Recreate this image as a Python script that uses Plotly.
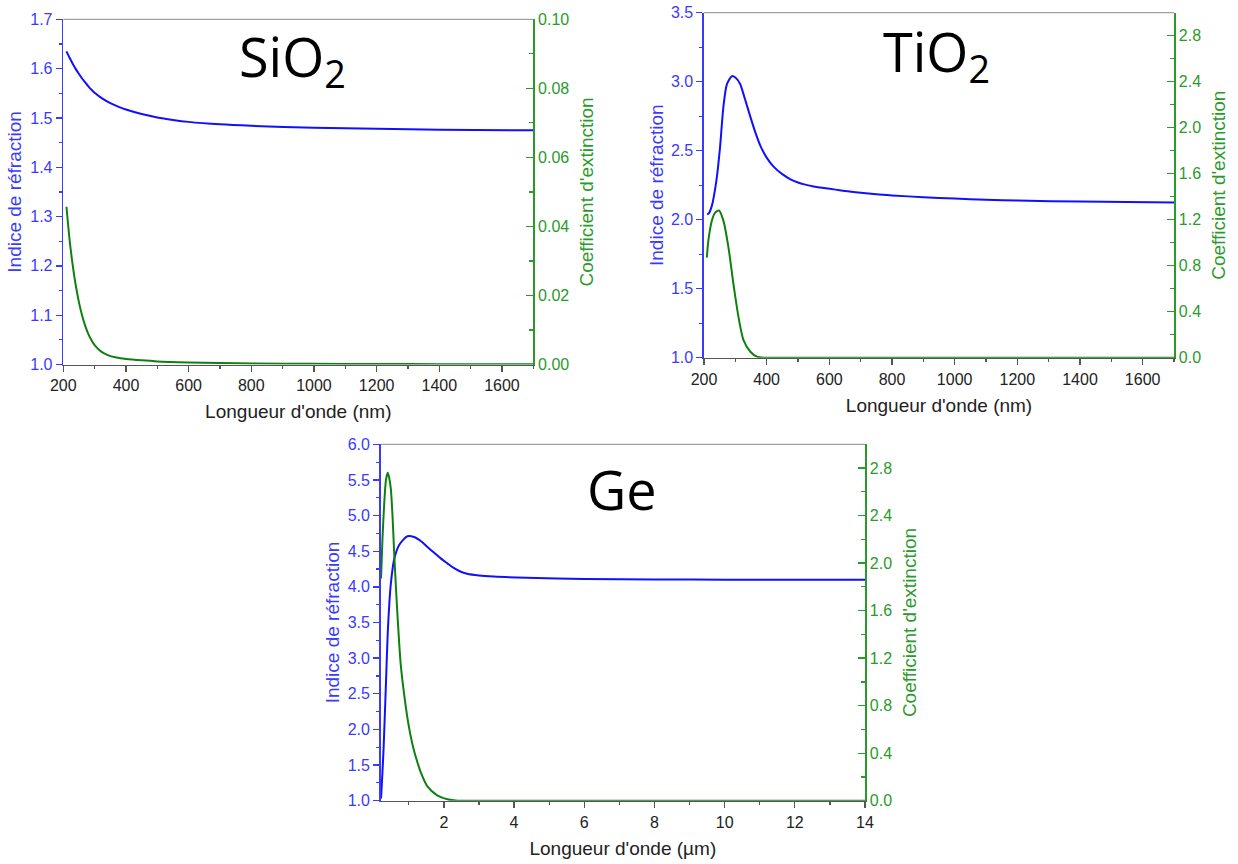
import plotly.graph_objects as go

# ---------------- data ----------------
sio2_wl_n = [210, 220, 230, 240, 250, 260, 270, 280, 290, 300, 325, 350, 375, 400, 450, 500, 550, 600, 700, 800, 1000, 1200, 1400, 1700]
sio2_n = [1.635, 1.622, 1.610, 1.599, 1.589, 1.580, 1.572, 1.564, 1.557, 1.551, 1.539, 1.530, 1.523, 1.517, 1.508, 1.501, 1.496, 1.492, 1.487, 1.484, 1.480, 1.478, 1.476, 1.475]
sio2_wl_k = [210, 220, 230, 240, 250, 260, 270, 280, 290, 300, 320, 340, 370, 400, 450, 500, 600, 700, 800, 1000, 1200, 1400, 1700]
sio2_k = [0.0457, 0.0362, 0.0288, 0.0228, 0.0180, 0.0142, 0.0112, 0.0088, 0.0070, 0.0056, 0.0038, 0.0028, 0.0020, 0.0016, 0.0012, 0.0009, 0.0006, 0.0004, 0.0003, 0.0002, 0.00015, 0.0001, 0.0001]

tio2_wl_n = [210, 215, 225, 240, 251, 262, 273, 289, 300, 315, 330, 348, 365, 380, 400, 422, 450, 476, 500, 520, 550, 583, 620, 650, 700, 750, 800, 900, 1000, 1100, 1200, 1400, 1700]
tio2_n = [2.04, 2.045, 2.10, 2.29, 2.52, 2.82, 2.98, 3.04, 3.03, 2.985, 2.88, 2.745, 2.625, 2.535, 2.45, 2.385, 2.33, 2.293, 2.270, 2.256, 2.241, 2.229, 2.218, 2.208, 2.195, 2.184, 2.176, 2.163, 2.153, 2.145, 2.139, 2.131, 2.125]
tio2_wl_k = [209, 214, 225, 235, 248, 262, 278, 294, 310, 326, 348, 369, 390, 420, 500, 800, 1200, 1700]
tio2_k = [0.87, 1.02, 1.19, 1.26, 1.28, 1.19, 0.96, 0.64, 0.355, 0.153, 0.052, 0.009, 0.0, 0.0, 0.0, 0.0, 0.0, 0.0]

ge_um_n = [0.21, 0.25, 0.28, 0.31, 0.35, 0.40, 0.45, 0.49, 0.58, 0.73, 0.96, 1.15, 1.35, 1.53, 1.72, 1.91, 2.1, 2.28, 2.47, 2.66, 3.0, 3.42, 4.36, 6, 8, 10, 14]
ge_n = [1.03, 1.40, 1.71, 2.10, 2.65, 3.35, 3.80, 4.05, 4.38, 4.59, 4.71, 4.70, 4.64, 4.56, 4.48, 4.40, 4.33, 4.265, 4.215, 4.185, 4.16, 4.145, 4.128, 4.112, 4.105, 4.10, 4.10]
ge_um_k = [0.21, 0.25, 0.30, 0.35, 0.40, 0.44, 0.49, 0.54, 0.58, 0.63, 0.68, 0.77, 0.87, 0.96, 1.05, 1.15, 1.25, 1.34, 1.53, 1.81, 2.1, 2.4, 3.0, 14]
ge_k = [1.87, 2.20, 2.50, 2.70, 2.76, 2.72, 2.62, 2.38, 2.11, 1.82, 1.55, 1.15, 0.89, 0.70, 0.55, 0.42, 0.32, 0.24, 0.12, 0.045, 0.012, 0.0, 0.0, 0.0]

titles = ["SiO<sub>2</sub>", "TiO<sub>2</sub>", "Ge"]
x_titles = ["Longueur d'onde (nm)", "Longueur d'onde (nm)", "Longueur d'onde (µm)"]
y_left_title = "Indice de réfraction"
y_right_title = "Coefficient d'extinction"

# ---------------- styling ----------------
W, H = 1238, 864
BLUE_LINE = "#1010ff"
BLUE_AX = "#3a3aff"
GREEN_LINE = "#0f800f"
GREEN_AX = "#2a9a2a"
DARK = "#555555"
TICKFONT = "Liberation Sans, Arial, sans-serif"
TICK_SIZE = 16
TITLE_SIZE = 19

def xd(a, b):
    return [a / W, b / W]

def yd(top, bottom):
    return [1 - bottom / H, 1 - top / H]

panels = [
    dict(xdom=xd(63.3, 533.3), ydom=yd(19.3, 364.5), xr=[200, 1700], xdt=200, xt0=200, xmin=100,
         yl=[1.0, 1.7], yldt=0.1, ylmin=0.05, ylfmt=".1f",
         yr=[0, 0.10], yrdt=0.02, yrmin=0.01, yrfmt=".2f",
         xn=sio2_wl_n, n=sio2_n, xk=sio2_wl_k, k=sio2_k, title_xy=(292, 59),
         lstand=3, rstand=11, bstand=11),
    dict(xdom=xd(704, 1174), ydom=yd(12.7, 357.7), xr=[200, 1700], xdt=200, xt0=200, xmin=100,
         yl=[1.0, 3.5], yldt=0.5, ylmin=0.25, ylfmt=".1f",
         yr=[0, 3.0], yrdt=0.4, yrmin=0.2, yrfmt=".1f",
         xn=tio2_wl_n, n=tio2_n, xk=tio2_wl_k, k=tio2_k, title_xy=(936, 54),
         lstand=2, rstand=11, bstand=12),
    dict(xdom=xd(380.7, 865), ydom=yd(444.3, 800.7), xr=[0.2, 14], xdt=2, xt0=0, xmin=1,
         yl=[1.0, 6.0], yldt=0.5, ylmin=0.25, ylfmt=".1f",
         yr=[0, 3.0], yrdt=0.4, yrmin=0.2, yrfmt=".1f",
         xn=ge_um_n, n=ge_n, xk=ge_um_k, k=ge_k, title_xy=(622, 489),
         lstand=3, rstand=11, bstand=12),
]

fig = go.Figure()
layout = dict(width=W, height=H, margin=dict(l=0, r=0, t=0, b=0, autoexpand=False),
              paper_bgcolor="white", plot_bgcolor="white", showlegend=False,
              font=dict(family=TICKFONT))
shapes = []
annotations = []

for i, p in enumerate(panels):
    xi = i + 1
    yl_i = 2 * i + 1
    yr_i = 2 * i + 2
    xname = "x" if xi == 1 else f"x{xi}"
    ylname = "y" if yl_i == 1 else f"y{yl_i}"
    yrname = f"y{yr_i}"
    xkey = "xaxis" if xi == 1 else f"xaxis{xi}"
    ylkey = "yaxis" if yl_i == 1 else f"yaxis{yl_i}"
    yrkey = f"yaxis{yr_i}"

    fig.add_trace(go.Scatter(x=p["xk"], y=p["k"], xaxis=xname, yaxis=yrname, mode="lines",
                             line=dict(color=GREEN_LINE, width=2, shape="spline", smoothing=0.7),
                             hoverinfo="skip"))
    fig.add_trace(go.Scatter(x=p["xn"], y=p["n"], xaxis=xname, yaxis=ylname, mode="lines",
                             line=dict(color=BLUE_LINE, width=2, shape="spline", smoothing=0.7),
                             hoverinfo="skip"))

    layout[xkey] = dict(domain=p["xdom"], range=p["xr"], anchor=ylname, automargin=False,
                        showline=True, linecolor=DARK, linewidth=1.6, mirror=False,
                        ticks="outside", ticklen=6, tickwidth=1.3, tickcolor=DARK,
                        tick0=p["xt0"], dtick=p["xdt"],
                        minor=dict(ticks="outside", ticklen=3, tickwidth=1.2, tickcolor=DARK, dtick=p["xmin"], showgrid=False),
                        tickfont=dict(size=TICK_SIZE, color="#222222", family=TICKFONT),
                        title=dict(text=x_titles[i], font=dict(size=TITLE_SIZE, color="#222222", family=TICKFONT), standoff=p["bstand"]),
                        showgrid=False, zeroline=False, fixedrange=True)
    layout[ylkey] = dict(domain=p["ydom"], range=p["yl"], anchor=xname, side="left", automargin=False,
                         showline=True, linecolor=BLUE_AX, linewidth=1.6,
                         ticks="outside", ticklen=6, tickwidth=1.3, tickcolor=BLUE_AX,
                         tick0=p["yl"][0], dtick=p["yldt"], tickformat=p["ylfmt"],
                         minor=dict(ticks="outside", ticklen=3, tickwidth=1.2, tickcolor=BLUE_AX, dtick=p["ylmin"], showgrid=False),
                         tickfont=dict(size=TICK_SIZE, color=BLUE_AX, family=TICKFONT),
                         title=dict(text=y_left_title, font=dict(size=TITLE_SIZE, color=BLUE_AX, family=TICKFONT), standoff=p["lstand"]),
                         showgrid=False, zeroline=False, fixedrange=True)
    layout[yrkey] = dict(range=p["yr"], anchor=xname, overlaying=ylname, side="right", automargin=False,
                         showline=True, linecolor=GREEN_AX, linewidth=1.6,
                         ticks="inside", ticklen=7, tickwidth=1.3, tickcolor=GREEN_AX,
                         tick0=0, dtick=p["yrdt"], tickformat=p["yrfmt"],
                         minor=dict(ticks="inside", ticklen=4, tickwidth=1.2, tickcolor=GREEN_AX, dtick=p["yrmin"], showgrid=False),
                         tickfont=dict(size=TICK_SIZE, color=GREEN_AX, family=TICKFONT),
                         title=dict(text=y_right_title, font=dict(size=TITLE_SIZE, color=GREEN_AX, family=TICKFONT), standoff=p["rstand"]),
                         showgrid=False, zeroline=False, fixedrange=True)

    # thin grey top frame line
    shapes.append(dict(type="line", xref=f"{xname} domain", yref=f"{ylname} domain",
                       x0=0, x1=1, y0=1, y1=1, line=dict(color="#8a8a8a", width=1)))

    tx, ty = p["title_xy"]
    annotations.append(dict(text=titles[i], xref="paper", yref="paper",
                            x=tx / W, y=1 - ty / H, xanchor="center", yanchor="middle",
                            showarrow=False, font=dict(size=54, color="black", family="Open Sans, sans-serif")))

layout["shapes"] = shapes
layout["annotations"] = annotations
fig.update_layout(**layout)

# remove the default 8px page margin so the figure sits at the window origin
fig.write_html("out.html", config={"displayModeBar": False, "staticPlot": True},
               post_script="document.body.style.margin='0px';")
